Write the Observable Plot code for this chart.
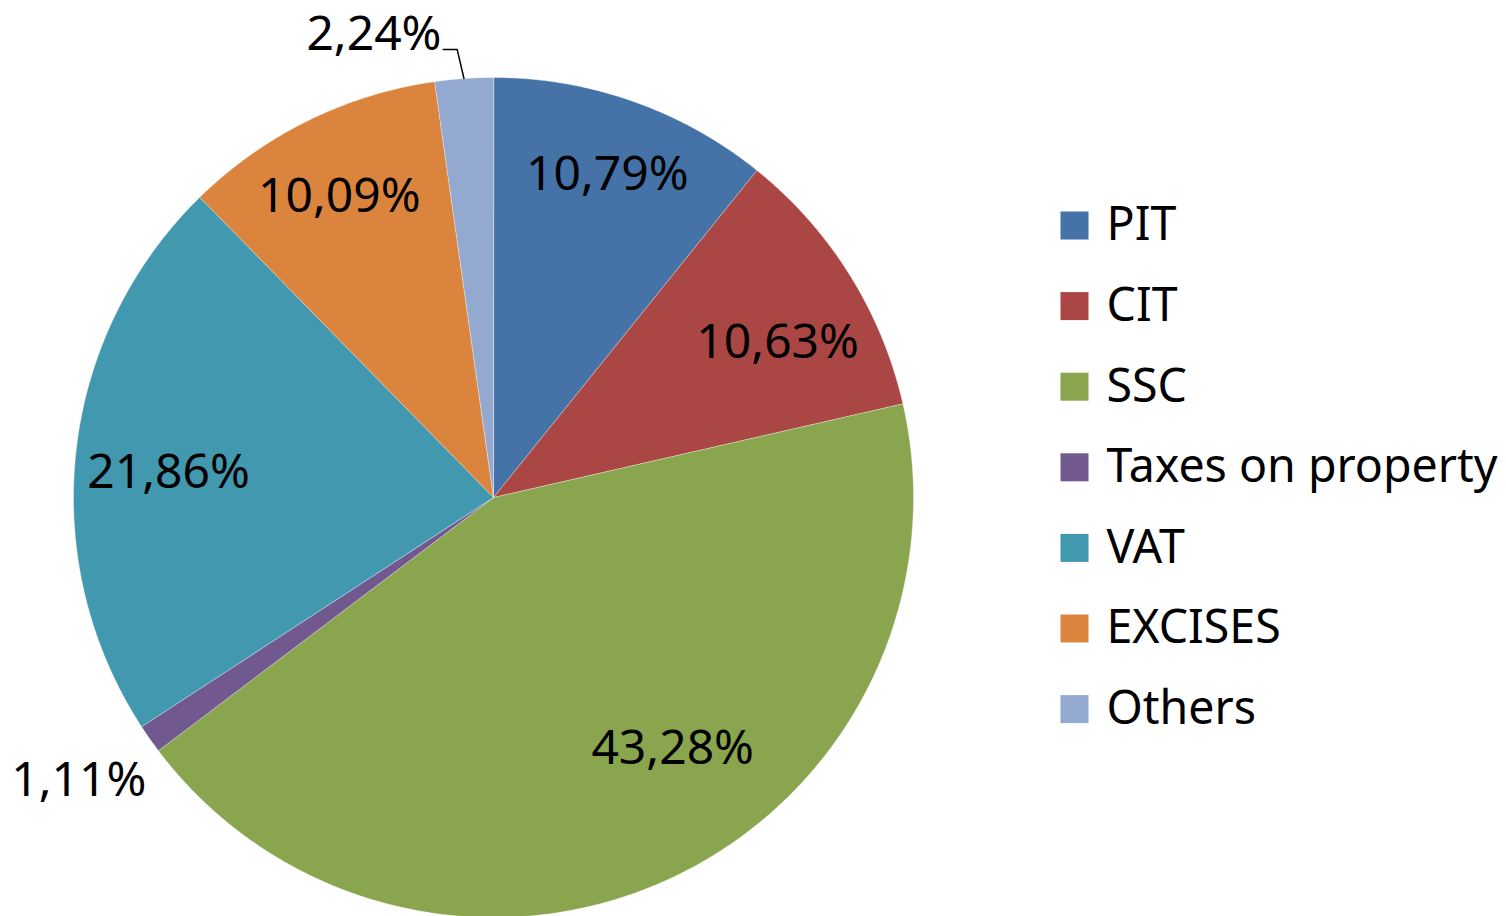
<!DOCTYPE html>
<html>
<head>
<meta charset="utf-8">
<script src="https://cdn.jsdelivr.net/npm/d3@7"></script>
<script src="https://cdn.jsdelivr.net/npm/@observablehq/plot@0.6"></script>
<style>
  html, body { margin: 0; padding: 0; background: #fff; }
  svg { display: block; }
</style>
</head>
<body>
<div id="chart"></div>
<script>
// ---- data ----
const categories = ["PIT", "CIT", "SSC", "Taxes on property", "VAT", "EXCISES", "Others"];
const shares = [10.79, 10.63, 43.28, 1.11, 21.86, 10.09, 2.24];
const labels = ["10,79%", "10,63%", "43,28%", "1,11%", "21,86%", "10,09%", "2,24%"];
const colors = ["#4572A7", "#AA4643", "#89A54E", "#71588F", "#4198AF", "#DB843D", "#93A9CF"];

// ---- layout (label placement: radius as fraction of pie radius, angle nudge in degrees) ----
const labelRadius = [0.815, 0.77, 0.735, 1.195, 0.776, 0.805, 1.14];
const labelNudge  = [0, 3.5, -10.5, 0.8, -1.9, -0.9, -11];
const W = 1506, H = 916, cx = 493, cy = 497, R = 420;
const FONT = "'Noto Sans', 'Open Sans', sans-serif";

const slices = categories.map((name, i) => ({name, value: shares[i], label: labels[i], i}));
const arcs = d3.pie().sort(null).value(d => d.value).startAngle(0).endAngle(2 * Math.PI)(slices);

// polygon points for each slice (center + arc), in unit data space
const poly = [];
for (const a of arcs) {
  poly.push({name: a.data.name, x: 0, y: 0});
  const n = Math.max(2, Math.ceil((a.endAngle - a.startAngle) / (Math.PI / 360)));
  for (let k = 0; k <= n; k++) {
    const t = a.startAngle + (a.endAngle - a.startAngle) * k / n;
    poly.push({name: a.data.name, x: Math.sin(t), y: Math.cos(t)});
  }
}

const labelPts = arcs.map((a, i) => {
  const mid = (a.startAngle + a.endAngle) / 2 + labelNudge[i] * Math.PI / 180;
  return {label: a.data.label, x: labelRadius[i] * Math.sin(mid), y: labelRadius[i] * Math.cos(mid), i};
});

// leader line for the small "Others" slice
const oth = arcs[6];
const othMid = (oth.startAngle + oth.endAngle) / 2;
const elbowR = 1.07, elbowA = othMid - 0.6 * Math.PI / 180;
const leader = [
  {x: Math.sin(othMid), y: Math.cos(othMid)},
  {x: elbowR * Math.sin(elbowA), y: elbowR * Math.cos(elbowA)},
  {x: elbowR * Math.sin(elbowA) - 14 / R, y: elbowR * Math.cos(elbowA)}
];

// legend items, placed in the same data space
const px2x = p => (p - cx) / R, px2y = p => (cy - p) / R;
const legend = categories.map((name, i) => ({name, y: px2y(225 + i * 80.6)}));

const chart = Plot.plot({
  width: W, height: H,
  margin: 0,
  x: {domain: [-1, 1], range: [cx - R, cx + R], axis: null},
  y: {domain: [-1, 1], range: [cy + R, cy - R], axis: null},
  color: {domain: categories, range: colors},
  style: {fontFamily: FONT, background: "white"},
  marks: [
    Plot.line(poly, {x: "x", y: "y", z: "name", fill: "name", stroke: "white", strokeWidth: 0.6, strokeOpacity: 0.6, curve: "linear-closed"}),
    Plot.line(leader, {x: "x", y: "y", stroke: "black", strokeWidth: 1.5}),
    Plot.text(labelPts.filter(d => d.i !== 6), {x: "x", y: "y", text: "label", fontSize: 48, fill: "black", textAnchor: "middle", lineAnchor: "middle"}),
    Plot.text(labelPts.filter(d => d.i === 6), {x: d => px2x(441), y: "y", text: "label", fontSize: 48, fill: "black", textAnchor: "end", lineAnchor: "middle"}),
    Plot.dot(legend, {x: () => px2x(1074), y: "y", fill: "name", symbol: "square", r: 15.8, stroke: null}),
    Plot.text(legend, {x: () => px2x(1106), y: "y", text: "name", fontSize: 46.5, fill: "black", textAnchor: "start", lineAnchor: "middle"})
  ]
});
document.getElementById("chart").appendChild(chart);
</script>
</body>
</html>
